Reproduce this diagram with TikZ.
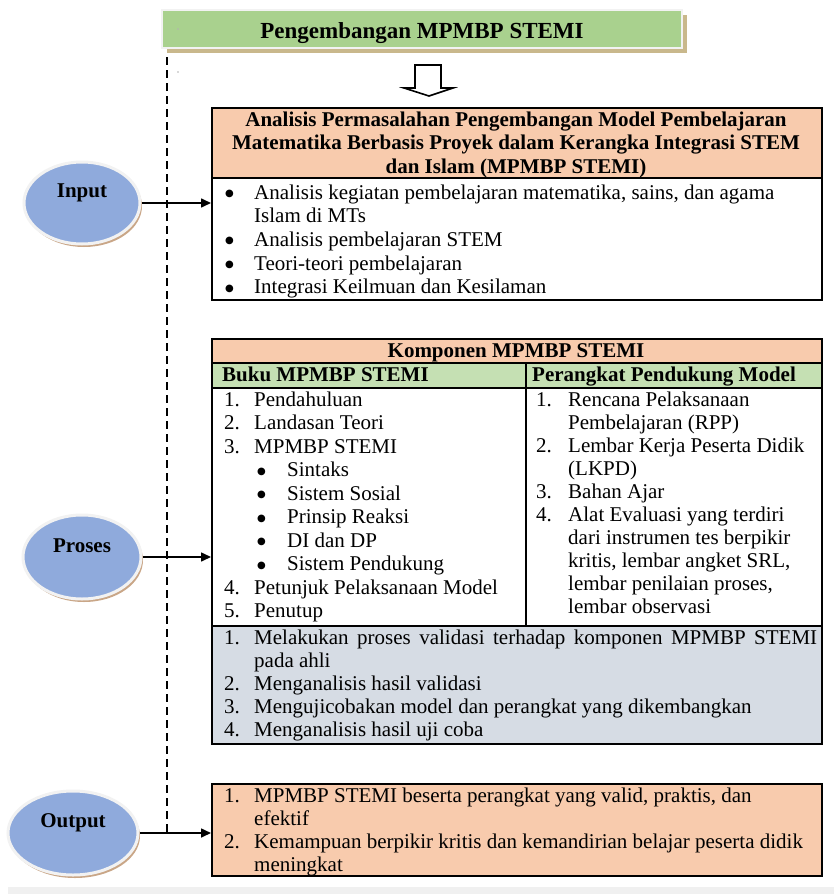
\documentclass[tikz,border=0pt]{standalone}
\usepackage{fontspec}
\setmainfont{Liberation Serif}
\newfontfamily\symbolfont{DejaVu Sans}
\usetikzlibrary{arrows.meta,shapes.geometric,shadows}

\definecolor{peach}{HTML}{F8CBAD}
\definecolor{leaf}{HTML}{C5E0B3}
\definecolor{titlegreen}{HTML}{A9D18E}
\definecolor{slate}{HTML}{D6DCE4}
\definecolor{bubblefill}{HTML}{8FAADC}
\definecolor{bubblerim}{HTML}{F2F2F2}
\definecolor{bubbleshade}{HTML}{C9A687}
\definecolor{titleshade}{HTML}{C9B88C}
\definecolor{band}{HTML}{F0F0F0}

% a slightly heavier list bullet
\newcommand{\bigdot}{\raisebox{2.5pt}{\symbolfont\fontsize{10}{12}\selectfont ●}}

\begin{document}
\begin{tikzpicture}[x=1pt,y=-1pt,
  cell/.style={rectangle, draw=black, line width=1.5pt, inner sep=0pt, anchor=north west},
  bodytext/.style={inner sep=0pt, anchor=base west, font={\fontsize{21}{23}\selectfont}},
  boldtext/.style={inner sep=0pt, font={\fontsize{21}{23.5}\selectfont\bfseries}},
  bubble/.style={ellipse, fill=bubblefill, draw=bubblerim, line width=3pt, inner sep=0pt,
    drop shadow={shadow xshift=2pt, shadow yshift=-3pt, fill=bubbleshade, opacity=1}},
  conn/.style={line width=1.6pt, -{Triangle[length=10pt,width=9pt]}},
  guide/.style={line width=1.6pt, dash pattern=on 8pt off 5pt}]

\useasboundingbox (0,0) rectangle (834,894);

% strip along the lower edge
\fill[band] (8,887) rectangle (834,894);

% title bar
\node[rectangle, minimum width=520pt, minimum height=38pt, fill=titlegreen,
  draw=bubblerim, line width=2pt, inner sep=0pt,
  drop shadow={shadow xshift=5pt, shadow yshift=-5pt, fill=titleshade, opacity=1}]
  (title) at (422,29) {};
\node[inner sep=0pt, anchor=base, font={\fontsize{23}{26}\selectfont\bfseries}]
  (titletext) at (422,38) {Pengembangan MPMBP STEMI};
\fill[gray!60] (178,29) circle (0.8pt) (178,72) circle (0.8pt);

% hollow block arrow
\draw[line width=1.6pt, line join=miter, fill=white]
  (415,65) -- (441,65) -- (441,88) -- (453,88) -- (429,96) -- (404,88) -- (415,88) -- cycle;

% dashed guide line
\coordinate (dtop) at (167,57);
\coordinate (dbot) at (167,832);
\draw[guide] (dtop) -- (dbot);

% ---------- input block ----------
\node[cell, fill=peach, minimum width=610pt, minimum height=70pt] (h1) at (211,107) {};
\node[cell, fill=white, minimum width=610pt, minimum height=122pt] (b1) at (211,177) {};
\node[boldtext, anchor=base] (h1text) at (516,126) {\begin{tabular}[t]{@{}c@{}}
Analisis Permasalahan Pengembangan Model Pembelajaran\\
Matematika Berbasis Proyek dalam Kerangka Integrasi STEM\\
dan Islam (MPMBP STEMI)\end{tabular}};
\node[bodytext, font={\fontsize{21}{23.7}\selectfont}] (b1text) at (225,199) {\begin{tabular}[t]{@{}p{29pt}@{}l@{}}
\bigdot & Analisis kegiatan pembelajaran matematika, sains, dan agama\\
 & Islam di MTs\\
\bigdot & Analisis pembelajaran STEM\\
\bigdot & Teori-teori pembelajaran\\
\bigdot & Integrasi Keilmuan dan Kesilaman\end{tabular}};

% ---------- process block ----------
\node[cell, fill=peach, minimum width=610pt, minimum height=24pt] (k0) at (211,338) {};
\node[cell, fill=leaf, minimum width=314pt, minimum height=25pt] (k1a) at (211,362) {};
\node[cell, fill=leaf, minimum width=296pt, minimum height=25pt] (k1b) at (525,362) {};
\node[cell, fill=white, minimum width=314pt, minimum height=238pt] (k2a) at (211,387) {};
\node[cell, fill=white, minimum width=296pt, minimum height=238pt] (k2b) at (525,387) {};
\node[cell, fill=slate, minimum width=610pt, minimum height=118pt] (k3) at (211,625) {};

\node[boldtext, anchor=base] (k0text) at (516,357) {Komponen MPMBP STEMI};
\node[boldtext, anchor=base west] (k1atext) at (222,381) {Buku MPMBP STEMI};
\node[boldtext, anchor=base west] (k1btext) at (532,381) {Perangkat Pendukung Model};

\node[bodytext, font={\fontsize{21}{23.5}\selectfont}] (k2atext) at (224,406) {\begin{tabular}[t]{@{}p{30pt}@{}l@{}}
1. & Pendahuluan\\
2. & Landasan Teori\\
3. & MPMBP STEMI\\
 & \hspace*{3pt}\makebox[30pt][l]{\bigdot}Sintaks\\
 & \hspace*{3pt}\makebox[30pt][l]{\bigdot}Sistem Sosial\\
 & \hspace*{3pt}\makebox[30pt][l]{\bigdot}Prinsip Reaksi\\
 & \hspace*{3pt}\makebox[30pt][l]{\bigdot}DI dan DP\\
 & \hspace*{3pt}\makebox[30pt][l]{\bigdot}Sistem Pendukung\\
4. & Petunjuk Pelaksanaan Model\\
5. & Penutup\end{tabular}};

\node[bodytext] (k2btext) at (536,406) {\begin{tabular}[t]{@{}p{32pt}@{}l@{}}
1. & Rencana Pelaksanaan\\
 & Pembelajaran (RPP)\\
2. & Lembar Kerja Peserta Didik\\
 & (LKPD)\\
3. & Bahan Ajar\\
4. & Alat Evaluasi yang terdiri\\
 & dari instrumen tes berpikir\\
 & kritis, lembar angket SRL,\\
 & lembar penilaian proses,\\
 & lembar observasi\end{tabular}};

\node[bodytext] (k3text) at (224,644) {\begin{tabular}[t]{@{}p{30pt}@{}l@{}}
1. & \makebox[563pt][s]{Melakukan proses validasi terhadap komponen MPMBP STEMI}\\
 & pada ahli\\
2. & Menganalisis hasil validasi\\
3. & Mengujicobakan model dan perangkat yang dikembangkan\\
4. & Menganalisis hasil uji coba\end{tabular}};

% ---------- output block ----------
\node[cell, fill=peach, minimum width=610pt, minimum height=92pt] (ob) at (211,783) {};
\node[bodytext] (obtext) at (224,802) {\begin{tabular}[t]{@{}p{30pt}@{}l@{}}
1. & MPMBP STEMI beserta perangkat yang valid, praktis, dan\\
 & efektif\\
2. & Kemampuan berpikir kritis dan kemandirian belajar peserta didik\\
 & meningkat\end{tabular}};

% ---------- stage bubbles ----------
\node[bubble, minimum width=116pt, minimum height=82pt] (inp) at (82,203) {};
\node[boldtext, anchor=base] (inptext) at (82,197) {Input};
\node[bubble, minimum width=118pt, minimum height=84pt] (pro) at (82,557) {};
\node[boldtext, anchor=base] (protext) at (82,552) {Proses};
\node[bubble, minimum width=130pt, minimum height=84pt] (outp) at (73,833) {};
\node[boldtext, anchor=base] (outptext) at (73,827) {Output};

% connectors into the blocks
\draw[conn] (inp.east) -- (inp.east -| b1.west);
\draw[conn] (pro.east) -- (pro.east -| k2a.west);
\draw[conn] (outp.east) -- (outp.east -| ob.west);

\end{tikzpicture}
\end{document}
